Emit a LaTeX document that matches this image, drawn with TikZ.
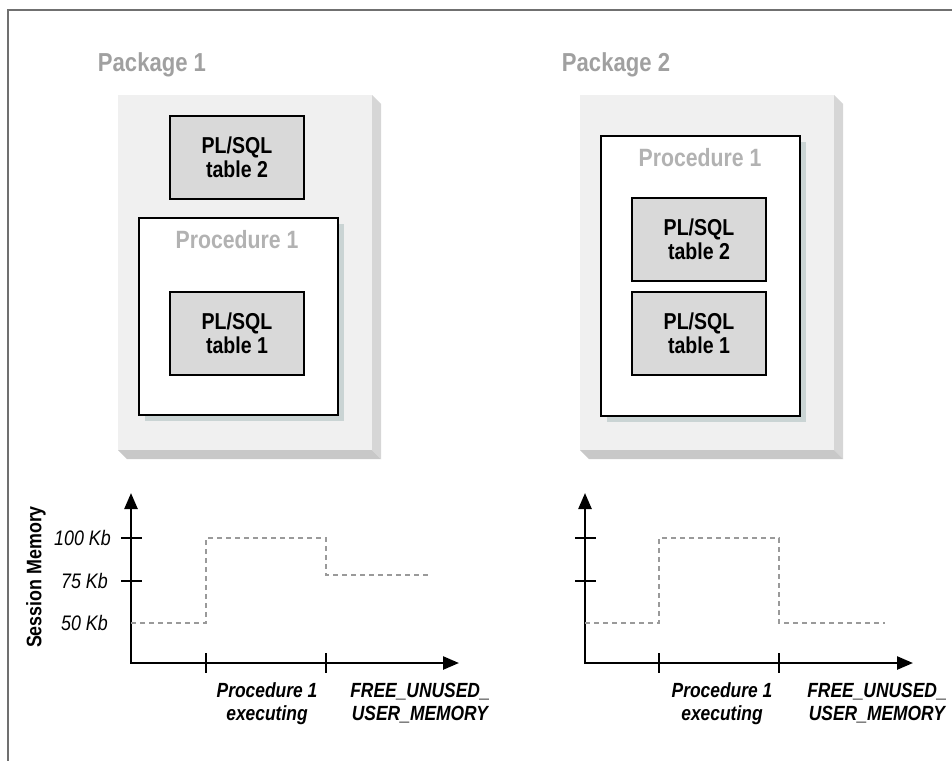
\documentclass[tikz,border=0pt]{standalone}
\usepackage{fontspec}
\setmainfont{Liberation Sans}[FakeStretch=0.85]
\usetikzlibrary{arrows.meta,shadows}

\definecolor{pkgface}{HTML}{F0F0F0}
\definecolor{pkgside}{HTML}{D6D6D6}
\definecolor{pkgbottom}{HTML}{C8C8C8}
\definecolor{tblfill}{HTML}{D9D9D9}
\definecolor{pkggray}{HTML}{A0A0A0}
\definecolor{procgray}{HTML}{B2B2B2}
\definecolor{shadowcol}{HTML}{CAD4D4}
\definecolor{dashgray}{HTML}{9A9A9A}
\definecolor{framegray}{HTML}{707070}

\tikzset{
  pkglabel/.style={anchor=base,text=pkggray,font=\fontsize{26}{28}\selectfont\bfseries},
  proclabel/.style={anchor=base,text=procgray,font=\fontsize{25}{27}\selectfont\bfseries},
  pkgbox/.style={fill=pkgface,minimum width=254pt,minimum height=355pt,outer sep=0pt,inner sep=0pt},
  tblbox/.style={draw,line width=2pt,fill=tblfill,minimum width=134pt,minimum height=83pt,
    align=center,font=\fontsize{23}{24}\selectfont\bfseries},
  procbox/.style={draw,line width=2pt,fill=white,minimum width=199pt,
    drop shadow={shadow xshift=6pt,shadow yshift=-6pt,fill=shadowcol,opacity=1}},
  axis/.style={line width=2.5pt,{Triangle[length=16pt,width=13pt]}-{Triangle[length=16pt,width=13pt]}},
  axtick/.style={line width=2pt},
  memline/.style={dashgray,line width=2pt,dash pattern=on 5pt off 4pt},
  ylbl/.style={anchor=base east,inner sep=0pt,font=\fontsize{21}{22}\selectfont\itshape},
  xlbl/.style={anchor=base,align=center,inner sep=0pt,font=\fontsize{20.5}{22.5}\selectfont\bfseries\itshape}
}

\begin{document}
\begin{tikzpicture}[x=1pt,y=-1pt]
\useasboundingbox (0,0) rectangle (952,761);

\draw[framegray,line width=2pt] (952,10) -- (8,10) -- (8,761);

\begin{scope}
\node[pkglabel] (pk1lbl) at (152,71) {Package 1};
\node[pkgbox] (pk1) at (245,272.5) {};
\fill[pkgside] (pk1.north east) -- ++(9,9) -- ++(0,355) -- (pk1.south east) -- cycle;
\fill[pkgbottom] (pk1.south west) -- ++(9,9) -- ++(254,0) -- (pk1.south east) -- cycle;
\node[tblbox] (t2a) at (237,157.5) {PL/SQL\\table 2};
\node[procbox,minimum height=197pt] (pr1) at (238.5,316.5) {};
\node[proclabel] (pr1lbl) at (237,248) {Procedure 1};
\node[tblbox] (t1a) at (237,333.5) {PL/SQL\\table 1};
\end{scope}

\begin{scope}
\node[pkglabel] (pk2lbl) at (616,71) {Package 2};
\node[pkgbox] (pk2) at (707,272.5) {};
\fill[pkgside] (pk2.north east) -- ++(9,9) -- ++(0,355) -- (pk2.south east) -- cycle;
\fill[pkgbottom] (pk2.south west) -- ++(9,9) -- ++(254,0) -- (pk2.south east) -- cycle;
\node[procbox,minimum height=280pt] (pr2) at (700.5,276) {};
\node[proclabel] (pr2lbl) at (700,166) {Procedure 1};
\node[tblbox] (t2b) at (699,239.5) {PL/SQL\\table 2};
\node[tblbox] (t1b) at (699,333.5) {PL/SQL\\table 1};
\end{scope}

\begin{scope}
\draw[axis] (131,493) coordinate (ytop1) -- (131,663) coordinate (o1) -- (459,663) coordinate (xend1);
\draw[axtick] (121,538) -- (142,538);
\draw[axtick] (121,581) -- (142,581);
\draw[axtick] (206,653) -- (206,673);
\draw[axtick] (326,653) -- (326,673);
\draw[memline] (o1|-0,623) -- (206,623) -- (206,538) -- (326,538) -- (326,575) -- (428,575);
\node[ylbl] (kb100) at (111,545) {100 Kb};
\node[ylbl] (kb75) at (108,588) {75 Kb};
\node[ylbl] (kb50) at (108,630) {50 Kb};
\node[rotate=90,font=\fontsize{21}{22}\selectfont\bfseries] (mem) at (36,577) {Session Memory};
\node[xlbl] (ex1) at (267,720) {Procedure 1\\executing};
\node[xlbl] (fr1) at (420,720) {FREE\_UNUSED\_\\USER\_MEMORY};
\end{scope}

\begin{scope}
\draw[axis] (585,493) coordinate (ytop2) -- (585,663) coordinate (o2) -- (913,663) coordinate (xend2);
\draw[axtick] (575,538) -- (596,538);
\draw[axtick] (575,581) -- (596,581);
\draw[axtick] (659,653) -- (659,673);
\draw[axtick] (779,653) -- (779,673);
\draw[memline] (o2|-0,623) -- (659,623) -- (659,538) -- (779,538) -- (779,623) -- (885,623);
\node[xlbl] (ex2) at (722,720) {Procedure 1\\executing};
\node[xlbl] (fr2) at (877,720) {FREE\_UNUSED\_\\USER\_MEMORY};
\end{scope}

\end{tikzpicture}
\end{document}
